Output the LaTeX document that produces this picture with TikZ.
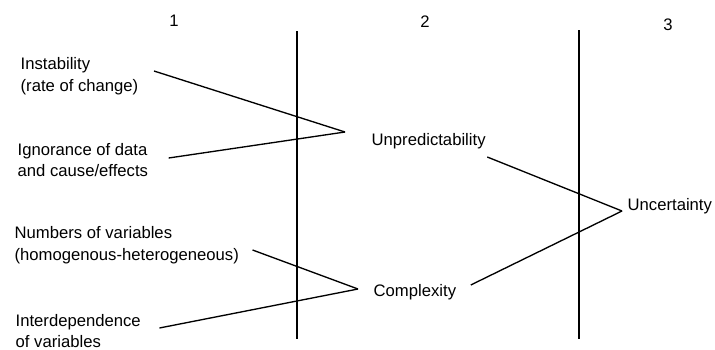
\documentclass[tikz,border=0pt]{standalone}
\usepackage{fontspec}
\setmainfont{Liberation Sans}
\usetikzlibrary{positioning}

\begin{document}
\begin{tikzpicture}[
					x=0.6pt, y=-0.6pt,
					every node/.style={font=\fontsize{10}{13}\selectfont, align=left, inner sep=0pt},
					line width=0.8pt]
				\useasboundingbox (0,0) rectangle (715,349);
				% column numbers
				\node (n1) at (174,21) {1};
				\node (n2) at (425,22) {2};
				\node (n3) at (668,25) {3};
				% dividers
				\draw (297,31) -- (297,339);
				\draw (579,30) -- (579,339);
				% factors
				\node[anchor=west] (instab) at (20,76)  {Instability\\(rate of change)};
				\node[anchor=west] (ignor)  at (17,160) {Ignorance of data\\and cause/effects};
				\node[anchor=west] (numvar) at (14,245) {Numbers of variables\\(homogenous-heterogeneous)};
				\node[anchor=west] (interd) at (15,331) {Interdependence\\of variables};
				\node[anchor=west] (unpred) at (371,141) {Unpredictability};
				\node[anchor=west] (compl)  at (373,292) {Complexity};
				\node[anchor=west] (uncert) at (627,206) {Uncertainty};
				\coordinate (j1) at (345,132);
				\coordinate (j2) at (358,289);
				\coordinate (j3) at (622,211);
				\foreach \from/\off/\to in {instab/{15,-5}/j1, ignor/{20,-2}/j1, numvar/{13,5}/j2, interd/{18,-3}/j2, unpred/{1,16}/j3, compl/{14,-7}/j3}
					\draw ([shift={(\off)}]\from.east) -- (\to);
			\end{tikzpicture}
\end{document}
